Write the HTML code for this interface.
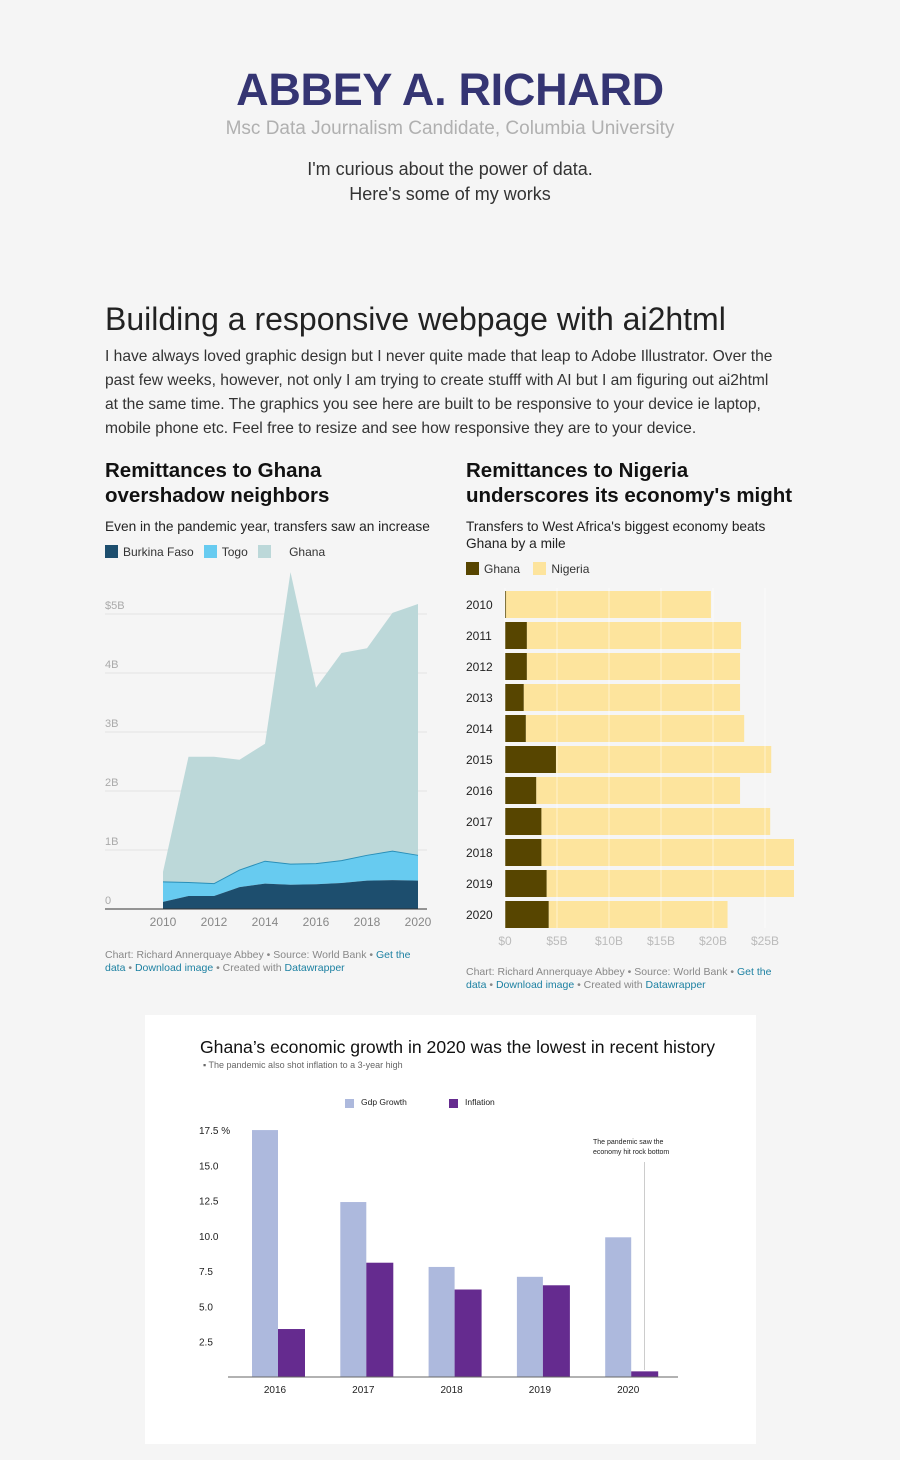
<!DOCTYPE html>
<html><head><meta charset="utf-8">
<style>
body{margin:0;background:#f5f5f5;font-family:"Liberation Sans",sans-serif;color:#222;}
#page{position:relative;width:900px;height:1460px;overflow:hidden;}
.a{position:absolute;margin:0;}
.hd{font-weight:bold;font-size:20.5px;line-height:25px;color:#111;}
.sub{font-size:13.7px;color:#222;line-height:17px;}
.leg{font-size:12px;color:#333;}
.sw{display:inline-block;width:13px;height:13px;vertical-align:-2px;margin-right:5px;}
.foot{font-size:10.5px;color:#888;line-height:13px;}
.foot span{color:#1d81a2;}
</style></head><body>
<div id="page">
<h1 class="a" style="left:0;width:900px;top:62px;text-align:center;font-size:45px;font-weight:900;color:#353573;letter-spacing:-0.3px;line-height:56px;">ABBEY A. RICHARD</h1>
<div class="a" style="left:0;width:900px;top:118px;text-align:center;font-size:19px;color:#b0b0b0;font-weight:300;">Msc Data Journalism Candidate, Columbia University</div>
<div class="a" style="left:0;width:900px;top:157px;text-align:center;font-size:18px;line-height:25px;color:#333;">I'm curious about the power of data.<br>Here's some of my works</div>
<h2 class="a" style="left:105px;top:298px;font-size:32px;font-weight:normal;color:#222;line-height:42px;">Building a responsive webpage with ai2html</h2>
<p class="a" style="left:105px;top:345px;width:678px;font-size:15.6px;line-height:24px;color:#333;">I have always loved graphic design but I never quite made that leap to Adobe Illustrator. Over the past few weeks, however, not only I am trying to create stufff with AI but I am figuring out ai2html at the same time. The graphics you see here are built to be responsive to your device ie laptop, mobile phone etc. Feel free to resize and see how responsive they are to your device.</p>

<div class="a hd" style="left:105px;top:458px;">Remittances to Ghana<br>overshadow neighbors</div>
<div class="a sub" style="left:105px;top:518px;">Even in the pandemic year, transfers saw an increase</div>
<div class="a leg" style="left:105px;top:545px;">
<span><i class="sw" style="background:#1d4e6e"></i>Burkina Faso</span>&nbsp;&nbsp;
<span><i class="sw" style="background:#67cbf0"></i>Togo</span>&nbsp;&nbsp;
<span><i class="sw" style="background:#bcd8d9"></i>&nbsp;&nbsp;&nbsp;&nbsp;Ghana</span></div>
<svg class="a" id="area" style="left:0;top:560px" width="450" height="380"></svg>
<div class="a foot" style="left:105px;top:949px;width:322px;">Chart: Richard Annerquaye Abbey • Source: World Bank • <span>Get the data</span> • <span>Download image</span> • Created with <span>Datawrapper</span></div>

<div class="a hd" style="left:466px;top:458px;">Remittances to Nigeria<br>underscores its economy's might</div>
<div class="a sub" style="left:466px;top:518px;width:320px;">Transfers to West Africa's biggest economy beats Ghana by a mile</div>
<div class="a leg" style="left:466px;top:562px;">
<span><i class="sw" style="background:#574500"></i>Ghana</span>&nbsp;&nbsp;&nbsp;
<span><i class="sw" style="background:#fde49d"></i>Nigeria</span></div>
<svg class="a" id="hbar" style="left:450px;top:580px" width="450" height="375"></svg>
<div class="a foot" style="left:466px;top:966px;width:322px;">Chart: Richard Annerquaye Abbey • Source: World Bank • <span>Get the data</span> • <span>Download image</span> • Created with <span>Datawrapper</span></div>

<div class="a" style="left:145px;top:1015px;width:611px;height:429px;background:#fff;"></div>
<div class="a" style="left:200px;top:1037px;font-size:17.6px;color:#111;">Ghana’s economic growth in 2020 was the lowest in recent history</div>
<div class="a" style="left:203px;top:1060px;font-size:9px;color:#666;">▪ The pandemic also shot inflation to a 3-year high</div>
<svg class="a" id="vbar" style="left:145px;top:1080px" width="611" height="330"></svg>
</div>
<script>
const NS="http://www.w3.org/2000/svg";
function mk(p,t,a,txt){const e=document.createElementNS(NS,t);for(const k in a)e.setAttribute(k,a[k]);if(txt!==undefined)e.textContent=txt;p.appendChild(e);return e;}

// ---- area chart ----
const areaYears=[2010,2011,2012,2013,2014,2015,2016,2017,2018,2019,2020];
const burkina=[0.12,0.22,0.22,0.37,0.43,0.41,0.42,0.44,0.48,0.49,0.48];
const togo=[0.34,0.23,0.21,0.29,0.38,0.35,0.35,0.38,0.43,0.49,0.43];
const ghana=[0.17,2.13,2.15,1.87,1.99,4.95,2.98,3.52,3.51,4.04,4.26];
const areaTicks=[0,1,2,3,4,5];
const areaTickLabels=["0","1B","2B","3B","4B","$5B"];
const areaXTicks=[2010,2012,2014,2016,2018,2020];
{
const s=document.getElementById('area');
const ax=y=>163+(y-2010)*25.5, ay=v=>349-v*59;
areaTicks.forEach((t,i)=>{
 const l=mk(s,'line',{x1:105,x2:427,y1:ay(t),y2:ay(t),stroke:'#e2e2e2'});
 
 const tx=mk(s,'text',{x:105,y:ay(t)-5,'font-size':11,fill:'#aaa'},areaTickLabels[i]);
 
});
const c1=burkina, c2=burkina.map((v,i)=>v+togo[i]), c3=c2.map((v,i)=>v+ghana[i]);
function band(lo,hi,fill,name,stroke){
 let d='M'+areaYears.map((y,i)=>ax(y)+','+ay(hi[i])).join('L');
 d+='L'+areaYears.map((y,i)=>ax(y)+','+ay(lo[i])).reverse().join('L')+'Z';
 const p=mk(s,'path',{d,fill});
 
 if(stroke){const l=mk(s,'path',{d:'M'+areaYears.map((y,i)=>ax(y)+','+ay(hi[i])).join('L'),fill:'none',stroke,'stroke-width':1});
 }
}
const zero=areaYears.map(()=>0);
band(c2,c3,'#bcd8d9','area-ghana');
band(c1,c2,'#67cbf0','area-togo','#2a8fb8');
band(zero,c1,'#1d4e6e','area-burkina');
const b=mk(s,'line',{x1:105,x2:427,y1:ay(0),y2:ay(0),stroke:'#333'});

areaXTicks.forEach(y=>{const t=mk(s,'text',{x:ax(y),y:366,'font-size':12,fill:'#888','text-anchor':'middle'},y);
 });
}

// ---- horizontal bar chart ----
const barYears=[2010,2011,2012,2013,2014,2015,2016,2017,2018,2019,2020];
const ghanaB=[0.1,2.1,2.1,1.8,2.0,4.9,3.0,3.5,3.5,4.0,4.2];
const nigeriaB=[19.7,20.6,20.5,20.8,21.0,20.7,19.6,22.0,24.3,23.8,17.2];
const barTicks=[0,5,10,15,20,25];
const barTickLabels=["$0","$5B","$10B","$15B","$20B","$25B"];
{
const s=document.getElementById('hbar');
const bx=v=>55+v*10.4, by=i=>11+i*31;
barYears.forEach((yr,i)=>{
 const n=mk(s,'rect',{x:bx(ghanaB[i]),y:by(i),width:Math.min(bx(ghanaB[i]+nigeriaB[i]),344)-bx(ghanaB[i]),height:27,fill:'#fde49d'});
 
 const g=mk(s,'rect',{x:bx(0),y:by(i),width:Math.max(bx(ghanaB[i])-bx(0),1),height:27,fill:'#574500'});
 
 const t=mk(s,'text',{x:16,y:by(i)+18,'font-size':12,fill:'#222'},yr);
 
});
barTicks.forEach((t,i)=>{
 const l=mk(s,'line',{x1:bx(t),x2:bx(t),y1:8,y2:348,stroke:'#fff','stroke-opacity':0.5});
 
 const tx=mk(s,'text',{x:bx(t),y:365,'font-size':12,fill:'#bbb','text-anchor':'middle'},barTickLabels[i]);
 
});
}

// ---- vertical grouped bar chart ----
const gYears=[2016,2017,2018,2019,2020];
const gdpGrowth=[17.5,12.4,7.8,7.1,9.9];
const inflation=[3.4,8.1,6.2,6.5,0.4];
const gTicks=[2.5,5,7.5,10,12.5,15,17.5];
const gTickLabels=["2.5","5.0","7.5","10.0","12.5","15.0","17.5 %"];
{
const s=document.getElementById('vbar');
const gx=i=>130+i*88.3, gy=v=>297-v*14.11;
gTicks.forEach((t,i)=>{const tx=mk(s,'text',{x:54,y:gy(t)+4,'font-size':10,fill:'#222'},gTickLabels[i]);
 });
const an=mk(s,'line',{x1:499.5,x2:499.5,y1:82,y2:290,stroke:'#ccc'});

gYears.forEach((yr,i)=>{
 const a=mk(s,'rect',{x:gx(i)-23,y:gy(gdpGrowth[i]),width:26,height:gy(0)-gy(gdpGrowth[i]),fill:'#adb9dd'});
 
 const b=mk(s,'rect',{x:gx(i)+3,y:gy(inflation[i]),width:27,height:gy(0)-gy(inflation[i]),fill:'#652b8f'});
 
 const t=mk(s,'text',{x:gx(i),y:313,'font-size':10,fill:'#222','text-anchor':'middle'},yr);
 
});
const ax=mk(s,'line',{x1:83,x2:533,y1:gy(0),y2:gy(0),stroke:'#666'});

const l1=mk(s,'rect',{x:200,y:19,width:9,height:9,fill:'#adb9dd'});

const l1t=mk(s,'text',{x:216,y:25,'font-size':8.5,fill:'#222'},'Gdp Growth');

const l2=mk(s,'rect',{x:304,y:19,width:9,height:9,fill:'#652b8f'});

const l2t=mk(s,'text',{x:320,y:25,'font-size':8.5,fill:'#222'},'Inflation');

const a1=mk(s,'text',{x:448,y:64,'font-size':7,fill:'#222'},'The pandemic saw the');

const a2=mk(s,'text',{x:448,y:74,'font-size':7,fill:'#222'},'economy hit rock bottom');

}
</script>
</body></html>
